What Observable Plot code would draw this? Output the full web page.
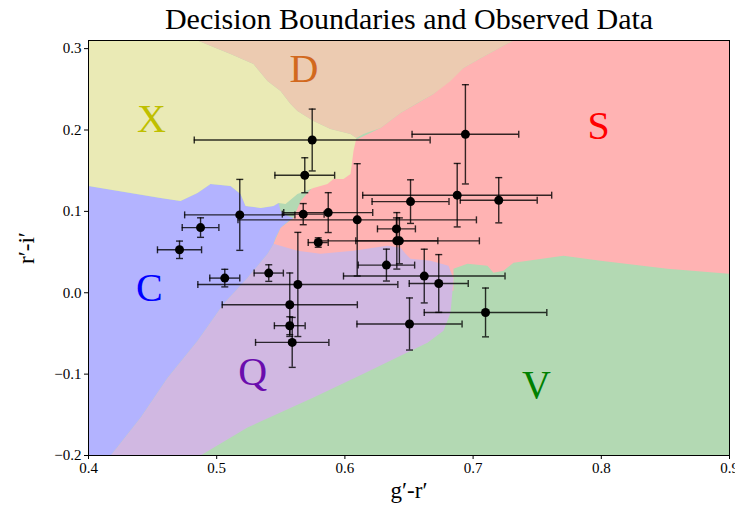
<!DOCTYPE html>
<html>
<head>
<meta charset="utf-8">
<script src="https://cdn.jsdelivr.net/npm/d3@7"></script>
<script src="https://cdn.jsdelivr.net/npm/@observablehq/plot@0.6"></script>
<style>
  html, body { margin: 0; padding: 0; background: #fff; }
</style>
</head>
<body>
<div id="chart"></div>
<script>
// ---- Tick values ----
const xTicks = [0.4, 0.5, 0.6, 0.7, 0.8, 0.9];
const yTicks = [-0.2, -0.1, 0.0, 0.1, 0.2, 0.3];

// ---- Observed data (g'-r', r'-i') with errors ----
const gr    = [0.5745,0.5687,0.5180,0.6096,0.4874,0.4710,0.5675,0.5870,0.5792,0.6512,0.6876,0.6940,0.7200,0.6402,0.6405,0.6425,0.5063,0.5406,0.5633,0.5570,0.5570,0.5589,0.6324,0.6619,0.6732,0.7097,0.6504];
const ri    = [0.1877,0.1444,0.0957,0.0896,0.0801,0.0528,0.0966,0.0985,0.0617,0.1120,0.1199,0.1947,0.1137,0.0785,0.0638,0.0638,0.0180,0.0242,0.0102,-0.0147,-0.0405,-0.0610,0.0340,0.0205,0.0114,-0.0242,-0.0384];
const grErr = [0.092,0.0233,0.043,0.093,0.0143,0.0172,0.0163,0.0347,0.0078,0.030,0.0737,0.0416,0.030,0.0148,0.032,0.0624,0.0117,0.0114,0.078,0.0527,0.012,0.0286,0.022,0.063,0.023,0.0478,0.041];
const riErr = [0.038,0.0215,0.0436,0.069,0.012,0.0107,0.013,0.0245,0.0058,0.0268,0.039,0.061,0.0278,0.0135,0.0347,0.0282,0.0108,0.0102,0.064,0.039,0.011,0.0307,0.0196,0.033,0.0355,0.030,0.032];

// ---- Decision regions (polygon vertices in data coordinates) ----
const regionV = [[0.4,-0.2],[0.9,-0.2],[0.9,0.31],[0.4,0.31]];
const regionS = [[0.7315,0.31],[0.9,0.31],[0.9,0.0233],[0.8516,0.0294],[0.7994,0.0393],[0.7705,0.0454],[0.7315,0.0368],[0.7237,0.0270],[0.7159,0.0245],[0.7112,0.0331],[0.6956,0.0356],[0.6847,0.0294],[0.6847,0.0025],[0.5654,0.0025],[0.5443,0.0601],[0.5498,0.0798],[0.5599,0.0920],[0.5654,0.1129],[0.6067,0.1865],[0.6278,0.2025],[0.6434,0.2209],[0.6691,0.2442],[0.6925,0.2761],[0.7058,0.2883]];
const regionQ = [[0.4172,-0.2],[0.4874,-0.2],[0.5240,-0.1656],[0.5755,-0.1288],[0.6145,-0.0994],[0.6434,-0.0773],[0.6644,-0.0613],[0.6769,-0.0466],[0.6824,-0.0245],[0.6839,0.0025],[0.6847,0.0172],[0.6808,0.0331],[0.6668,0.0393],[0.6512,0.0417],[0.6473,0.0479],[0.6434,0.0552],[0.6332,0.0577],[0.6223,0.0552],[0.6067,0.0515],[0.5810,0.0479],[0.5630,0.0515],[0.5443,0.0601],[0.5396,0.0479],[0.5240,0.0184],[0.5053,-0.0135],[0.4850,-0.0589],[0.4616,-0.1043],[0.4406,-0.1534]];
const regionC = [[0.4,0.1313],[0.4328,0.1227],[0.4562,0.1166],[0.4718,0.1129],[0.4850,0.1227],[0.4952,0.1337],[0.5108,0.1313],[0.5186,0.1215],[0.5225,0.1067],[0.5342,0.1043],[0.5443,0.1067],[0.5482,0.1104],[0.5498,0.1006],[0.5552,0.0945],[0.5599,0.0920],[0.5560,0.0883],[0.5498,0.0798],[0.5459,0.0675],[0.5443,0.0601],[0.5396,0.0479],[0.5240,0.0184],[0.5053,-0.0135],[0.4850,-0.0589],[0.4616,-0.1043],[0.4406,-0.1534],[0.4172,-0.2],[0.4,-0.2]];
const regionX = [[0.4,0.31],[0.4850,0.31],[0.5108,0.2933],[0.5287,0.2810],[0.5396,0.2601],[0.5498,0.2479],[0.5576,0.2319],[0.5630,0.2233],[0.5755,0.2110],[0.5888,0.2012],[0.6044,0.1951],[0.6090,0.1902],[0.6067,0.1742],[0.6044,0.1460],[0.5989,0.1399],[0.5911,0.1399],[0.5864,0.1337],[0.5755,0.1288],[0.5630,0.1215],[0.5537,0.1092],[0.5482,0.1104],[0.5443,0.1067],[0.5342,0.1043],[0.5225,0.1067],[0.5186,0.1215],[0.5108,0.1313],[0.4952,0.1337],[0.4850,0.1227],[0.4718,0.1129],[0.4562,0.1166],[0.4328,0.1227],[0.4,0.1313]];
const regionD = [[0.4850,0.31],[0.7315,0.31],[0.7058,0.2883],[0.6925,0.2761],[0.6824,0.2601],[0.6691,0.2442],[0.6566,0.2331],[0.6434,0.2209],[0.6278,0.2025],[0.6145,0.1951],[0.6090,0.1902],[0.6044,0.1951],[0.5888,0.2012],[0.5755,0.2110],[0.5630,0.2233],[0.5576,0.2319],[0.5498,0.2479],[0.5396,0.2601],[0.5287,0.2810],[0.5108,0.2933]];

// ---- Region labels ----
const labelNames = ["X", "D", "S", "C", "Q", "V"];
const labelGr    = [0.449, 0.568, 0.798, 0.4475, 0.528, 0.7495];
const labelRi    = [0.213, 0.275, 0.205, 0.005, -0.098, -0.114];
const labelColors = ["#bfbf00", "#d2691e", "#ff0000", "#0000ff", "#6a0dad", "#008000"];
const regionFills = {V: "#b3d9b3", S: "#ffb3b3", Q: "#d1b8e2", C: "#b3b3ff", X: "#eaeab5", D: "#eccbb1"};

const title = "Decision Boundaries and Observed Data";
const xLabel = "g\u2032-r\u2032";
const yLabel = "r\u2032-i\u2032";

const points = gr.map((g, i) => ({gr: g, ri: ri[i], ge: grErr[i], re: riErr[i]}));
const labels = labelNames.map((n, i) => ({name: n, gr: labelGr[i], ri: labelRi[i], color: labelColors[i]}));
const poly = arr => arr.map(([x, y]) => ({x, y}));

const capH = {draw(ctx, size) { const r = Math.sqrt(size / Math.PI); ctx.moveTo(-r, 0); ctx.lineTo(r, 0); }};
const capV = {draw(ctx, size) { const r = Math.sqrt(size / Math.PI); ctx.moveTo(0, -r); ctx.lineTo(0, r); }};

const regionMark = (arr, fill) => Plot.line(poly(arr), {x: "x", y: "y", fill, stroke: "none", curve: "linear-closed", clip: true});

const serif = "'Liberation Serif', 'DejaVu Serif', serif";

const chart = Plot.plot({
  width: 735,
  height: 507,
  marginLeft: 88,
  marginRight: 6,
  marginTop: 40,
  marginBottom: 52,
  style: {fontFamily: serif, fontSize: "15px", background: "#fff", color: "#000"},
  color: {type: "identity"},
  x: {domain: [0.4, 0.9], ticks: xTicks, tickFormat: d3.format(".1f"), tickSize: 4, tickPadding: 3, label: null},
  y: {domain: [-0.2, 0.31], ticks: yTicks, tickFormat: d3.format(".1f"), tickSize: 4, tickPadding: 3, label: null},
  marks: [
    regionMark(regionV, regionFills.V),
    regionMark(regionS, regionFills.S),
    regionMark(regionQ, regionFills.Q),
    regionMark(regionC, regionFills.C),
    regionMark(regionX, regionFills.X),
    regionMark(regionD, regionFills.D),
    Plot.text(labels, {x: "gr", y: "ri", text: "name", fill: "color", fontSize: 40, fontFamily: serif}),
    // error bars
    Plot.ruleY(points, {y: "ri", x1: d => d.gr - d.ge, x2: d => d.gr + d.ge, stroke: "#000", strokeOpacity: 0.8, strokeWidth: 1.4}),
    Plot.ruleX(points, {x: "gr", y1: d => d.ri - d.re, y2: d => d.ri + d.re, stroke: "#000", strokeOpacity: 0.8, strokeWidth: 1.4}),
    Plot.dot(points, {x: d => d.gr - d.ge, y: "ri", symbol: capV, r: 3.5, stroke: "#000", strokeOpacity: 0.8, fill: "none", strokeWidth: 1.4}),
    Plot.dot(points, {x: d => d.gr + d.ge, y: "ri", symbol: capV, r: 3.5, stroke: "#000", strokeOpacity: 0.8, fill: "none", strokeWidth: 1.4}),
    Plot.dot(points, {x: "gr", y: d => d.ri - d.re, symbol: capH, r: 3.5, stroke: "#000", strokeOpacity: 0.8, fill: "none", strokeWidth: 1.4}),
    Plot.dot(points, {x: "gr", y: d => d.ri + d.re, symbol: capH, r: 3.5, stroke: "#000", strokeOpacity: 0.8, fill: "none", strokeWidth: 1.4}),
    Plot.dot(points, {x: "gr", y: "ri", r: 4.5, fill: "#000", stroke: "none"}),
    Plot.frame({stroke: "#000", strokeWidth: 1}),
    Plot.text([title], {text: d => d, frameAnchor: "top", lineAnchor: "middle", textAnchor: "middle", dy: -21, fontSize: 30, fontFamily: serif, fill: "#000"}),
    Plot.text([xLabel], {text: d => d, frameAnchor: "bottom", lineAnchor: "middle", textAnchor: "middle", dy: 35, fontSize: 23, fontFamily: serif, fill: "#000"}),
    Plot.text([yLabel], {text: d => d, frameAnchor: "left", lineAnchor: "middle", textAnchor: "middle", dx: -62, rotate: -90, fontSize: 23, fontFamily: serif, fill: "#000"})
  ]
});
document.getElementById("chart").append(chart);
</script>
</body>
</html>
